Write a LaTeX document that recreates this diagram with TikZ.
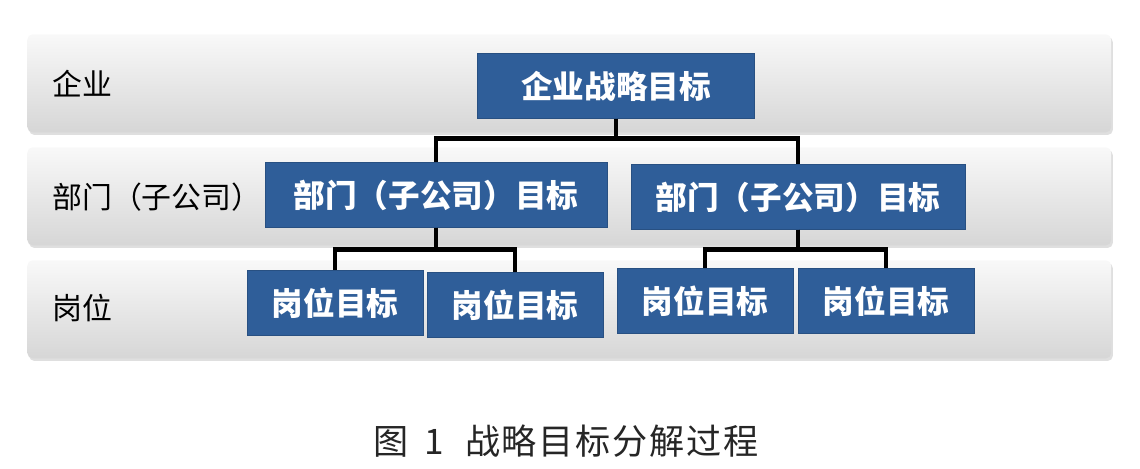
\documentclass[tikz,border=0pt]{standalone}
\usepackage{fontspec}
\newfontfamily\cjk{Noto Sans CJK SC}
\usepackage{xcolor}
\usetikzlibrary{
  positioning,
  shadows
}
\definecolor{goalblue}{HTML}{2F5E99}

\begin{document}
\begin{tikzpicture}[
  x=0.02cm, y=-0.02cm,
  band/.style={
    rectangle, anchor=north west, rounded corners=3pt,
    top color=gray!5, bottom color=gray!32, draw=none,
    minimum width=21.68cm, minimum height=1.96cm,
    drop shadow={opacity=0.25, shadow xshift=1pt, shadow yshift=-1.5pt}
  },
  goal/.style={
    rectangle, fill=goalblue, draw=goalblue!85!black, text=white,
    font=\cjk\bfseries\fontsize{18}{20}\selectfont,
    minimum height=1.29cm, inner sep=0pt
  },
  post/.style={goal, minimum width=3.52cm},
  level/.style={anchor=west, inner sep=0pt, font=\cjk\fontsize{17}{20}\selectfont},
  tree/.style={line width=2.6pt, black}
]
\useasboundingbox[fill=white] (0,0) rectangle (1140,468);

% bands
\node[band] (band-enterprise) at (27,34) {};
\node[band] (band-dept) at (27,147) {};
\node[band] (band-post) at (27,260) {};

\node[level] (label-enterprise) at (52,84) {企业};
\node[level] (label-dept) at (52,197) {部门（子公司）};
\node[level] (label-post) at (52,308) {岗位};

% goals
\node[goal, minimum width=5.54cm] (enterprise-goal) at (616,86) {企业战略目标};
\node[goal, minimum width=6.84cm] (dept-goal-1) at (436,195) {部门（子公司）目标};
\node[goal, minimum width=6.68cm] (dept-goal-2) at (798,197) {部门（子公司）目标};

\node[post] (post-goal-1) at (335,303) {岗位目标};
\node[post] (post-goal-2) at (515,305) {岗位目标};
\node[post] (post-goal-3) at (705,301) {岗位目标};
\node[post] (post-goal-4) at (886,301) {岗位目标};

% tree
\draw[tree] (enterprise-goal.south) -- ++(0,20) -| (dept-goal-1.north);
\draw[tree] (enterprise-goal.south) -- ++(0,20) -| (dept-goal-2.north);
\draw[tree] (dept-goal-1.south) -- ++(0,22) -| (post-goal-1.north);
\draw[tree] (dept-goal-1.south) -- ++(0,22) -| (post-goal-2.north);
\draw[tree] (dept-goal-2.south) -- ++(0,20) -| (post-goal-3.north);
\draw[tree] (dept-goal-2.south) -- ++(0,20) -| (post-goal-4.north);

\node[font=\cjk\fontsize{20}{22}\selectfont, text=black!85] (caption) at (566,441)
  {图\hspace{0.45em}1\hspace{0.6em}战\kern1pt 略\kern1pt 目\kern1pt 标\kern1pt 分\kern1pt 解\kern1pt 过\kern1pt 程};
\end{tikzpicture}
\end{document}
